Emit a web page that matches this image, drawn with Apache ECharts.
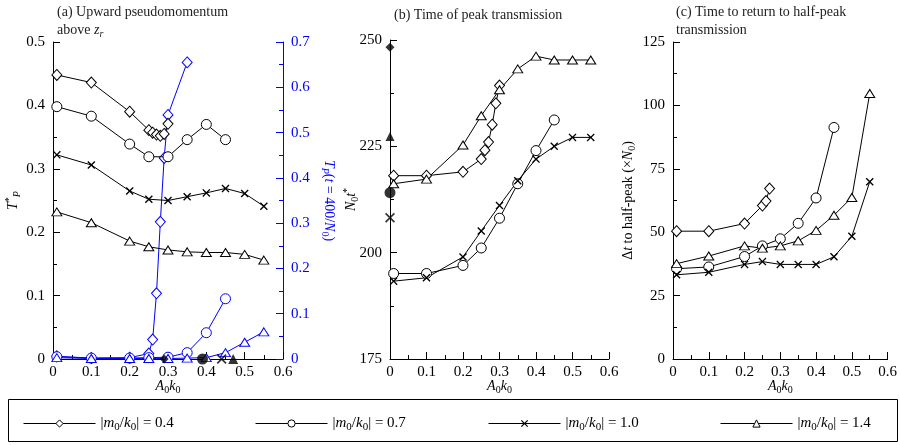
<!DOCTYPE html>
<html>
<head>
<meta charset="utf-8">
<title>Pseudomomentum transmission</title>
<script src="https://cdn.jsdelivr.net/npm/echarts@6/dist/echarts.min.js"></script>
<style>
  html, body { margin: 0; padding: 0; background: #fff; }
  #chart { width: 900px; height: 445px; }
</style>
</head>
<body>
<div id="chart"></div>
<script>
// A0k0 values used by each |m0/k0| case
var x04 = [0.01, 0.1, 0.2, 0.25, 0.26, 0.27, 0.28, 0.29, 0.30];
var x04Blue = [0.01, 0.1, 0.2, 0.25, 0.26, 0.27, 0.28, 0.29, 0.30, 0.35];
var x04c = [0.01, 0.1, 0.2, 0.25, 0.26, 0.27];
var x07 = [0.01, 0.1, 0.2, 0.25, 0.3, 0.35, 0.4, 0.45];
var x10 = [0.01, 0.1, 0.2, 0.25, 0.3, 0.35, 0.4, 0.45, 0.5, 0.55];
var x14 = [0.01, 0.1, 0.2, 0.25, 0.3, 0.35, 0.4, 0.45, 0.5, 0.55];

// (a) T*_P (left axis)
var tp04 = [0.448, 0.436, 0.390, 0.361, 0.357, 0.354, 0.352, 0.355, 0.371];
var tp07 = [0.398, 0.383, 0.339, 0.319, 0.319, 0.346, 0.370, 0.346];
var tp10 = [0.322, 0.306, 0.265, 0.252, 0.250, 0.256, 0.262, 0.269, 0.261, 0.241];
var tp14 = [0.232, 0.215, 0.186, 0.177, 0.172, 0.169, 0.168, 0.168, 0.165, 0.156];

// (a) T_P(t = 400/N0) (right axis, blue); the 1.0 case stays on the axis
var tt04 = [0.006, 0.002, 0.003, 0.012, 0.043, 0.145, 0.303, 0.444, 0.539, 0.655];
var tt07 = [0.005, 0.002, 0.002, 0.003, 0.004, 0.014, 0.058, 0.133];
var tt14 = [0.003, 0.001, 0.001, 0.001, 0.001, 0.002, 0.003, 0.014, 0.037, 0.060];

// (a) filled markers on the A0k0 axis
var aOnset = [0.29, 0.39, 0.44, 0.47];

// (b) N0 t*
var nt04 = [218.1, 218.1, 219.0, 222.0, 224.1, 226.0, 230.1, 235.1, 239.3];
var nt07 = [195.1, 195.1, 197.0, 201.1, 208.1, 216.2, 224.0, 231.2];
var nt10 = [193.3, 194.1, 199.0, 205.1, 211.1, 216.9, 222.0, 225.0, 227.1, 227.1];
var nt14 = [216.2, 217.3, 225.3, 232.2, 238.3, 243.2, 246.2, 245.3, 245.3, 245.3];
// (b) filled markers at A0k0 = 0
var ntZero = [248.3, 214.1, 208.2, 227.3];

// (c) time to return to half-peak
var dt04 = [50.4, 50.4, 53.4, 60.5, 62.3, 67.2];
var dt07 = [35.6, 36.3, 40.4, 44.6, 47.4, 53.5, 63.5, 91.3];
var dt10 = [33.2, 34.2, 37.3, 38.4, 37.3, 37.3, 37.3, 40.3, 48.4, 69.9];
var dt14 = [37.6, 40.6, 44.6, 43.7, 44.6, 46.6, 50.7, 56.7, 63.7, 104.7];

var caseNames = ['0.4', '0.7', '1.0', '1.4'];
var legendLeft = [23, 255, 488, 720];

var SERIF = 'Liberation Serif';
var BLACK = '#000';
var BLUE = '#0000ff';
var CROSS = 'path://M0,1.2L1.2,0L5,3.8L8.8,0L10,1.2L6.2,5L10,8.8L8.8,10L5,6.2L1.2,10L0,8.8L3.8,5Z';

var markers = {
    '0.4': { symbol: 'diamond', size: [10, 11], hollow: true },
    '0.7': { symbol: 'circle', size: 10, hollow: true },
    '1.0': { symbol: CROSS, size: 8, hollow: false },
    '1.4': { symbol: 'triangle', size: [10, 8], hollow: true }
};

function pairs(xs, ys) {
    return xs.map(function (x, i) { return [x, ys[i]]; });
}

// rich text styles shared by labels with italics / subscripts
function richStyles(size, color) {
    return {
        n: { fontFamily: SERIF, fontSize: size, color: color, lineHeight: size + 4 },
        i: { fontFamily: SERIF, fontSize: size, color: color, fontStyle: 'italic', lineHeight: size + 4 },
        s: { fontFamily: SERIF, fontSize: size - 4, color: color, verticalAlign: 'bottom', lineHeight: size - 4 },
        si: { fontFamily: SERIF, fontSize: size - 4, color: color, fontStyle: 'italic', verticalAlign: 'bottom', lineHeight: size - 4 },
        sup: { fontFamily: SERIF, fontSize: size - 4, color: color, verticalAlign: 'top', lineHeight: size - 4 }
    };
}

function lineSeries(name, gridAxis, yAxisIndex, xs, ys, color) {
    var mk = markers[name.slice(-3)];
    return {
        name: name,
        type: 'line',
        xAxisIndex: gridAxis,
        yAxisIndex: yAxisIndex,
        data: pairs(xs, ys),
        symbol: mk.symbol,
        symbolSize: mk.size,
        showAllSymbol: true,
        clip: false,
        z: color === BLUE ? 3 : 4,
        lineStyle: { color: color, width: 1 },
        itemStyle: mk.hollow
            ? { color: '#fff', borderColor: color, borderWidth: 1 }
            : { color: color, borderWidth: 0 },
        emphasis: { disabled: true }
    };
}

function filledMarks(name, xAxisIndex, yAxisIndex, points, sizes) {
    return {
        name: name,
        type: 'scatter',
        xAxisIndex: xAxisIndex,
        yAxisIndex: yAxisIndex,
        clip: false,
        z: 6,
        data: points.map(function (p, i) {
            var mk = markers[caseNames[i]];
            return { value: p, symbol: mk.symbol, symbolSize: sizes[i] };
        }),
        itemStyle: { color: BLACK },
        emphasis: { disabled: true }
    };
}

function xAxisFor(gridIndex) {
    return {
        type: 'value',
        gridIndex: gridIndex,
        min: 0,
        max: 0.6,
        interval: 0.1,
        name: '{i|A}{s|0}{i|k}{s|0}',
        nameLocation: 'middle',
        nameGap: 18,
        nameMoveOverlap: false,
        nameTextStyle: { rich: richStyles(14, BLACK) },
        axisLine: { lineStyle: { color: BLACK, width: 1 } },
        axisTick: { inside: true, length: 7, lineStyle: { color: BLACK } },
        minorTick: { show: true, splitNumber: 2, length: 4, lineStyle: { color: BLACK } },
        axisLabel: { color: BLACK, fontFamily: SERIF, fontSize: 15, margin: 6 },
        splitLine: { show: false }
    };
}

function yAxisFor(gridIndex, min, max, interval, name, color, opts) {
    var axis = {
        type: 'value',
        gridIndex: gridIndex,
        min: min,
        max: max,
        interval: interval,
        name: name,
        nameLocation: 'middle',
        nameMoveOverlap: false,
        nameTextStyle: { rich: richStyles(14, color) },
        axisLine: { show: true, lineStyle: { color: color, width: 1 } },
        axisTick: { inside: true, length: 7, lineStyle: { color: color } },
        minorTick: { show: true, splitNumber: 2, length: 4, lineStyle: { color: color } },
        axisLabel: { color: color, fontFamily: SERIF, fontSize: 15 },
        splitLine: { show: false }
    };
    return Object.assign(axis, opts);
}

var series = [
    // (a) left axis
    lineSeries('0.4', 0, 0, x04, tp04, BLACK),
    lineSeries('0.7', 0, 0, x07, tp07, BLACK),
    lineSeries('1.0', 0, 0, x10, tp10, BLACK),
    lineSeries('1.4', 0, 0, x14, tp14, BLACK),
    // (a) right axis
    lineSeries('T 0.4', 0, 1, x04Blue, tt04, BLUE),
    lineSeries('T 0.7', 0, 1, x07, tt07, BLUE),
    lineSeries('T 1.4', 0, 1, x14, tt14, BLUE),
    filledMarks('onset a', 0, 0, aOnset.map(function (x) { return [x, 0]; }), [9, 11, 10, 10]),
    // (b)
    lineSeries('b 0.4', 1, 2, x04, nt04, BLACK),
    lineSeries('b 0.7', 1, 2, x07, nt07, BLACK),
    lineSeries('b 1.0', 1, 2, x10, nt10, BLACK),
    lineSeries('b 1.4', 1, 2, x14, nt14, BLACK),
    filledMarks('zero b', 1, 2, ntZero.map(function (y) { return [0, y]; }), [9, 11, 10, 9]),
    // (c)
    lineSeries('c 0.4', 2, 3, x04c, dt04, BLACK),
    lineSeries('c 0.7', 2, 3, x07, dt07, BLACK),
    lineSeries('c 1.0', 2, 3, x10, dt10, BLACK),
    lineSeries('c 1.4', 2, 3, x14, dt14, BLACK)
];

var legends = caseNames.map(function (name, i) {
    return {
        data: [name],
        left: legendLeft[i],
        top: 416,
        padding: 0,
        itemWidth: 72,
        itemHeight: 9,
        selectedMode: false,
        lineStyle: { width: 1, color: BLACK },
        itemStyle: { borderWidth: 1 },
        formatter: function (n) {
            return '{n||}{i|m}{s|0}{n|/}{i|k}{s|0}{n|| = ' + n + '}';
        },
        textStyle: { rich: richStyles(15, BLACK) }
    };
});

var titleStyle = { fontFamily: SERIF, fontSize: 14, fontWeight: 'normal', color: '#222', lineHeight: 18,
    rich: richStyles(14, '#222') };

var chart = echarts.init(document.getElementById('chart'));
chart.setOption({
    animation: false,
    backgroundColor: '#fff',
    title: [
        { text: '(a) Upward pseudomomentum\nabove {i|z}{si|r}', left: 57, top: 3, padding: 0, textStyle: titleStyle },
        { text: '(b) Time of peak transmission', left: 394, top: 6, padding: 0, textStyle: titleStyle },
        { text: '(c) Time to return to half-peak\ntransmission', left: 676, top: 3, padding: 0, textStyle: titleStyle }
    ],
    grid: [
        { left: 53, right: 617, top: 42, bottom: 86 },
        { left: 390, right: 291, top: 40, bottom: 86 },
        { left: 673, right: 11, top: 42, bottom: 86 }
    ],
    xAxis: [xAxisFor(0), xAxisFor(1), xAxisFor(2)],
    yAxis: [
        yAxisFor(0, 0, 0.5, 0.1, '{i|T}{sup|*}{si|P}', BLACK, { nameGap: 31, axisLabel: { color: BLACK, fontFamily: SERIF, fontSize: 15, margin: 8 } }),
        yAxisFor(0, 0, 0.7, 0.1, '{i|T}{si|P}{n|(}{i|t}{n| = 400/}{i|N}{s|0}{n|)}', BLUE, { position: 'right', nameGap: 37, nameRotate: -90 }),
        yAxisFor(1, 175, 250, 25, '{i|N}{s|0}{i|t}{sup|*}', BLACK, { nameGap: 30 }),
        yAxisFor(2, 0, 125, 25, '{n|Δ}{i|t}{n| to half-peak (×}{i|N}{s|0}{n|)}', BLACK, { nameGap: 36 })
    ],
    legend: legends,
    graphic: [{
        type: 'rect',
        shape: { x: 8.5, y: 399.5, width: 889, height: 42 },
        style: { fill: 'none', stroke: BLACK, lineWidth: 1 },
        silent: true
    }],
    series: series
});
</script>
</body>
</html>
